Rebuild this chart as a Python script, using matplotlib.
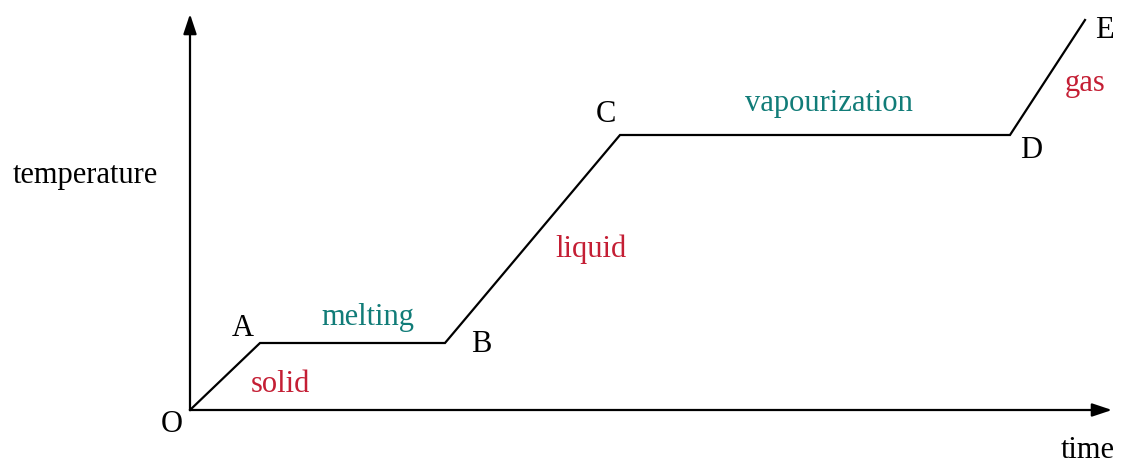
import matplotlib
matplotlib.use("Agg")
import matplotlib.pyplot as plt

# heating curve (arbitrary units)
time = [0, 70, 255, 430, 820, 895]
temp = [0, 67, 67, 275, 275, 390]
points = ["O", "A", "B", "C", "D", "E"]
phases = ["solid", "melting", "liquid", "vapourization", "gas"]

RED, TEAL, INK = "#C41E34", "#117C78", "#000000"
plt.rcParams["font.family"] = ["Liberation Serif", "DejaVu Serif"]

fig = plt.figure(figsize=(11.21, 4.63), dpi=100)
ax = fig.add_axes([0, 0, 1, 1])
ax.set_xlim(-190, 931)
ax.set_ylim(-53, 410)
ax.axis("off")

# axes with arrow heads
ax.annotate("", xy=(922, 0), xytext=(0, 0),
            arrowprops=dict(arrowstyle="-|>,head_length=1.2,head_width=0.4",
                            lw=1.6, color=INK, shrinkA=0, shrinkB=0))
ax.annotate("", xy=(0, 396), xytext=(0, 0),
            arrowprops=dict(arrowstyle="-|>,head_length=1.2,head_width=0.4",
                            lw=1.6, color=INK, shrinkA=0, shrinkB=0))

ax.plot(time, temp, color=INK, lw=1.6, solid_joinstyle="miter")

fs = 22
offs = [(-18, -14), (-17, 14), (36, -2), (-14, 21), (21, -15), (19, -10)]
for (t, T), lab, (dx, dy) in zip(zip(time, temp), points, offs):
    ax.text(t + dx, T + dy, lab, fontsize=fs, color=INK, ha="center", va="center")

# phase labels, placed beside the segments
phase_pos = [(90, 26), (178, 92), (401, 161), (639, 307), (895, 326)]
phase_col = [RED, TEAL, RED, TEAL, RED]
for (x, y), lab, c in zip(phase_pos, phases, phase_col):
    ax.text(x, y, lab, fontsize=fs, color=c, ha="center", va="center")

ax.text(-105, 235, "temperature", fontsize=fs, color=INK, ha="center", va="center")
ax.text(898, -40, "time", fontsize=fs, color=INK, ha="center", va="center")

fig.savefig("out.png", dpi=100)
